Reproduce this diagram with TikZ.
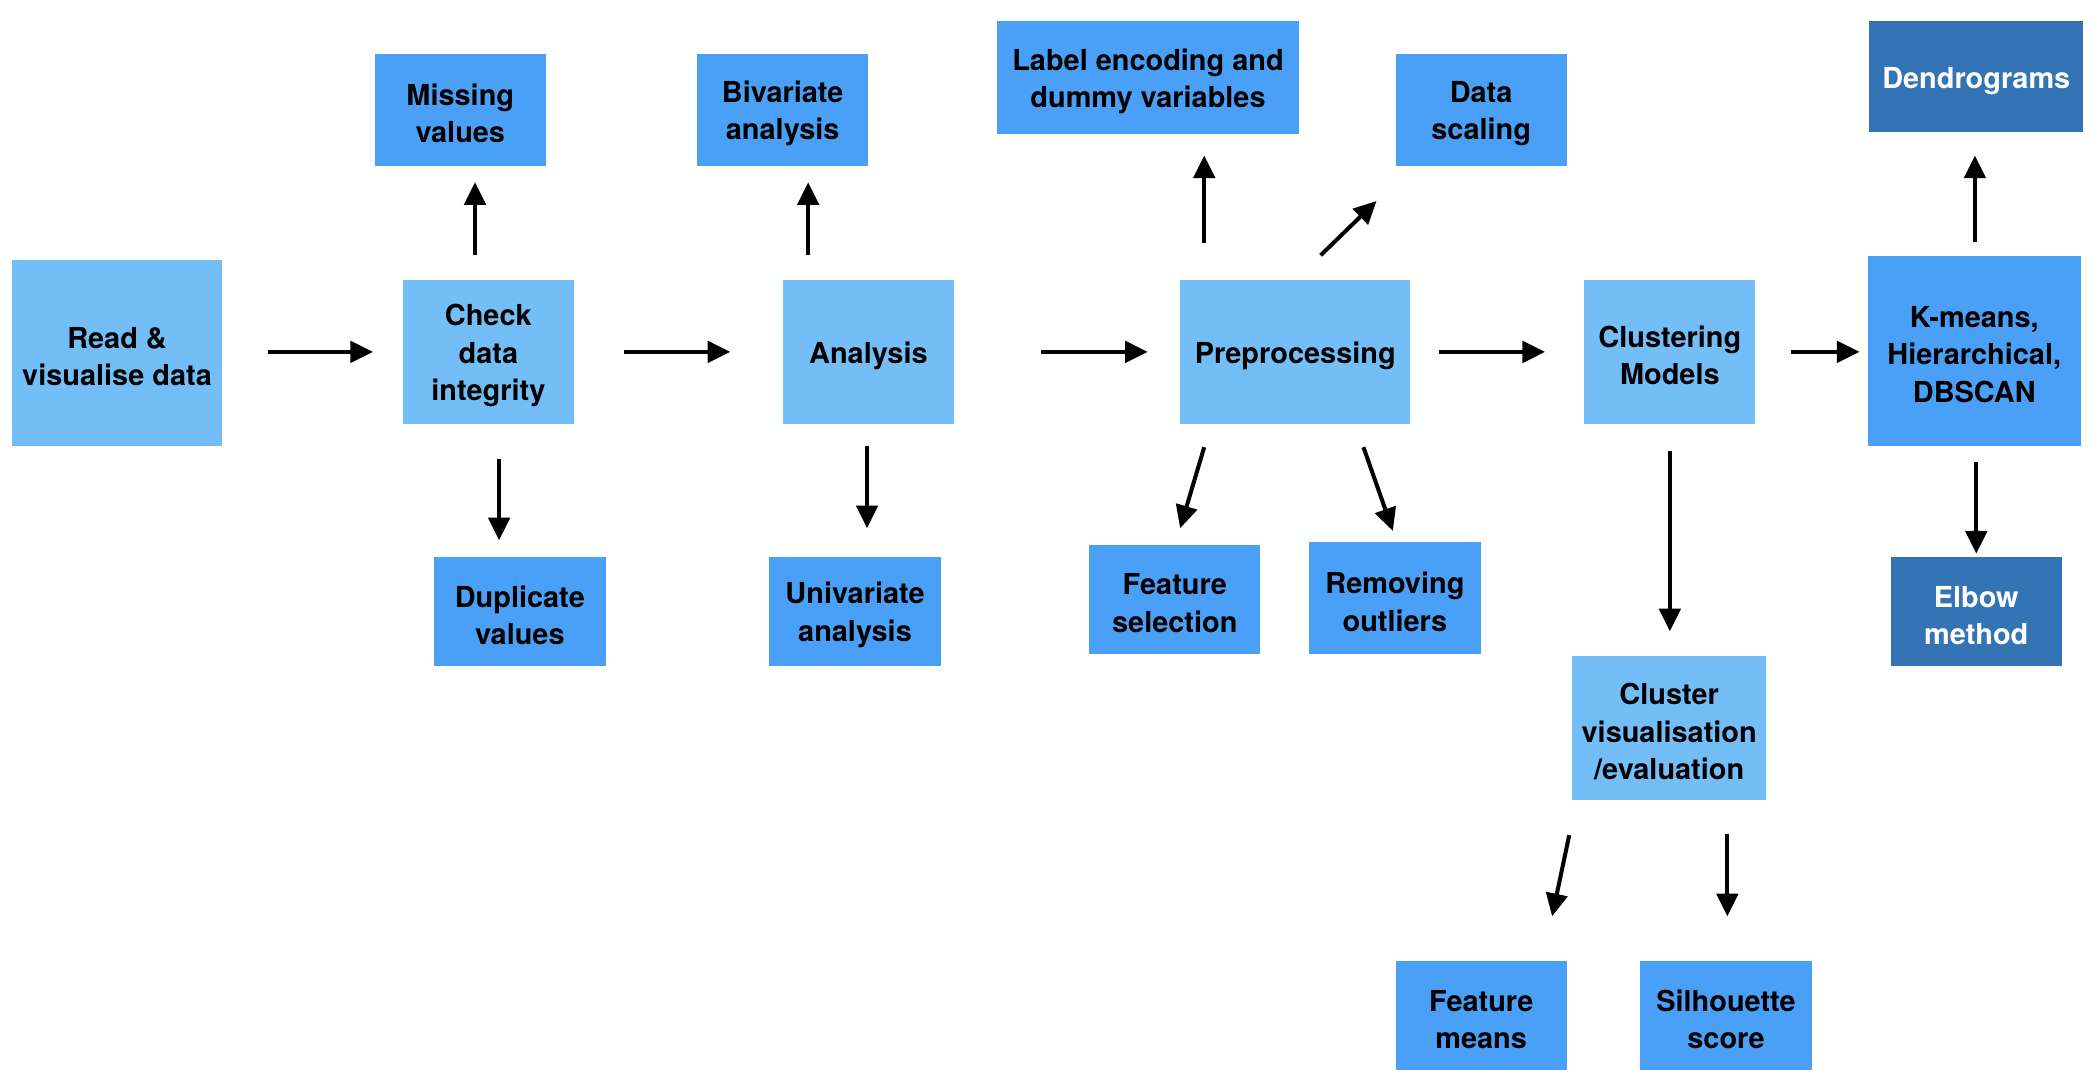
\documentclass[tikz,border=0pt]{standalone}
\usepackage{fontspec}
\setmainfont{TeX Gyre Heros}
\usetikzlibrary{arrows.meta,calc}
\definecolor{lightb}{RGB}{116,190,248}
\definecolor{midb}{RGB}{73,160,246}
\definecolor{darkb}{RGB}{52,116,180}
\newcommand{\firststrut}{\rule{0pt}{21.5pt}}
\begin{document}
\begin{tikzpicture}[x=1pt,y=-1pt,
  box/.style={inner sep=0pt, align=center, font=\fontsize{21.6}{28}\selectfont\bfseries, text=black},
  lbox/.style={box, fill=lightb},
  mbox/.style={box, fill=midb},
  dbox/.style={box, fill=darkb, text=white},
  arr/.style={line width=3pt, -{Triangle[length=17pt,width=16pt]}}]
\useasboundingbox (0,0) rectangle (1568,809);
% nodes
\node[lbox, minimum width=157pt, minimum height=139pt] (read) at (87.5,263.5) {\firststrut Read \&\\visualise data};
\node[lbox, minimum width=128pt, minimum height=108pt] (chk) at (365,263) {\firststrut Check\\data\\integrity};
\node[mbox, minimum width=128pt, minimum height=84pt] (miss) at (344,82) {\firststrut Missing\\values};
\node[mbox, minimum width=129pt, minimum height=82pt] (dup) at (388.5,457) {\firststrut Duplicate\\values};
\node[lbox, minimum width=128pt, minimum height=108pt] (ana) at (649,263) {\firststrut Analysis};
\node[mbox, minimum width=128pt, minimum height=84pt] (biv) at (585,82) {\firststrut Bivariate\\analysis};
\node[mbox, minimum width=128pt, minimum height=82pt] (uni) at (639,457) {\firststrut Univariate\\analysis};
\node[lbox, minimum width=172pt, minimum height=108pt] (pre) at (968,263) {\firststrut Preprocessing};
\node[mbox, minimum width=226pt, minimum height=84pt] (lab) at (858,58) {\firststrut Label encoding and\\dummy variables};
\node[mbox, minimum width=128pt, minimum height=84pt] (scl) at (1107,82) {\firststrut Data\\scaling};
\node[mbox, minimum width=128pt, minimum height=82pt] (fs) at (878,448) {\firststrut Feature\\selection};
\node[mbox, minimum width=129pt, minimum height=84pt] (ro) at (1042.5,447) {\firststrut Removing\\outliers};
\node[lbox, minimum width=128pt, minimum height=108pt] (cl) at (1248,263) {\firststrut Clustering\\Models};
\node[mbox, minimum width=159pt, minimum height=142pt] (km) at (1475.5,262) {\firststrut K-means,\\Hierarchical,\\DBSCAN};
\node[dbox, minimum width=160pt, minimum height=83pt] (den) at (1477,57.5) {\firststrut Dendrograms};
\node[dbox, minimum width=128pt, minimum height=82pt] (elb) at (1477,457) {\firststrut Elbow\\method};
\node[lbox, minimum width=145pt, minimum height=108pt] (cv) at (1247.5,544) {\firststrut Cluster\\visualisation\\/evaluation};
\node[mbox, minimum width=128pt, minimum height=82pt] (fm) at (1107,759) {\firststrut Feature\\means};
\node[mbox, minimum width=128pt, minimum height=82pt] (sil) at (1290,759) {\firststrut Silhouette\\score};
% connectors
\draw[arr, shorten <=34pt, shorten >=22pt] (read.east |- 0,263) -- (chk.west);
\draw[arr, shorten <=18pt, shorten >=12pt] (chk.north -| 355,0) -- (miss.south -| 355,0);
\draw[arr, shorten <=26pt, shorten >=12pt] (chk.south -| 373,0) -- (dup.north -| 373,0);
\draw[arr, shorten <=37pt, shorten >=39pt] (chk.east) -- (ana.west);
\draw[arr, shorten <=18pt, shorten >=12pt] (ana.north -| 604,0) -- (biv.south -| 604,0);
\draw[arr, shorten <=16pt, shorten >=21pt] (ana.south -| 648,0) -- (uni.north -| 648,0);
\draw[arr, shorten <=65pt, shorten >=24pt] (ana.east) -- (pre.west);
\draw[arr, shorten <=27pt, shorten >=16pt] (pre.north -| 900,0) -- (lab.south -| 900,0);
\draw[arr] ($(pre.north)+(19,-18)$) -- ($(scl.south west)+(-14,26)$);
\draw[arr] ($(pre.south)+(-68,17)$) -- ($(fs.north)+(4,-12)$);
\draw[arr] ($(pre.south)+(51,17)$) -- ($(ro.north)+(-1.5,-8)$);
\draw[arr, shorten <=21pt, shorten >=29pt] (pre.east) -- (cl.west);
\draw[arr, shorten <=26pt, shorten >=6pt] (cl.east) -- (km.west |- cl.east);
\draw[arr, shorten <=10pt, shorten >=17pt] (km.north -| 1476,0) -- (den.south -| 1476,0);
\draw[arr, shorten <=12pt, shorten >=2pt] (km.south -| 1477,0) -- (elb.north);
\draw[arr, shorten <=20pt, shorten >=18pt] (cl.south) -- (cv.north -| cl.south);
\draw[arr] ($(cv.south west)+(-2,26)$) -- ($(fm.north)+(53,-33)$);
\draw[arr, shorten <=25pt, shorten >=33pt] (cv.south -| 1291,0) -- (sil.north -| 1291,0);
\end{tikzpicture}
\end{document}
